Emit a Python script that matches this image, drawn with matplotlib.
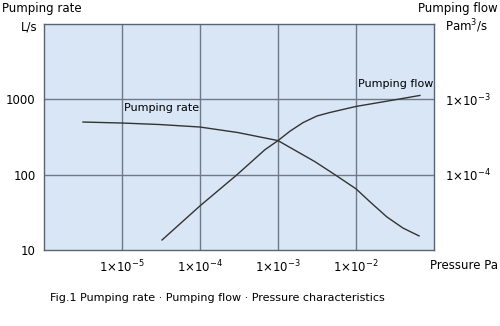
import matplotlib
matplotlib.use("Agg")
import matplotlib.pyplot as plt
from matplotlib.ticker import NullLocator, FixedLocator

# pressure (Pa) vs pumping rate (L/s)
rate_pressure = [3.16e-6, 1e-5, 3.07e-5, 1e-4, 3.07e-4, 1e-3, 1.6e-3, 2.98e-3,
                 5.38e-3, 1e-2, 1.56e-2, 2.49e-2, 4.0e-2, 6.43e-2]
rate_values = [501, 486, 464, 430, 363, 284, 215, 149, 100, 65, 42.4, 27.5, 19.6, 15.4]

# pressure (Pa) vs pumping flow (Pa m3/s)
flow_pressure = [3.26e-5, 1e-4, 2.98e-4, 6.8e-4, 1e-3, 1.43e-3, 2.1e-3, 3.16e-3,
                 4.64e-3, 1e-2, 3.36e-2, 6.6e-2]
flow_values = [1.36e-5, 3.86e-5, 1e-4, 2.15e-4, 2.84e-4, 3.8e-4, 4.93e-4, 6.03e-4,
               6.71e-4, 8.07e-4, 1e-3, 1.13e-3]

x_ticks = [1e-5, 1e-4, 1e-3, 1e-2]
x_labels = ["1×10$^{-5}$", "1×10$^{-4}$", "1×10$^{-3}$", "1×10$^{-2}$"]
rate_ticks = [10, 100, 1000]
rate_labels = ["10", "100", "1000"]
flow_ticks = [1e-4, 1e-3]
flow_labels = ["1×10$^{-4}$", "1×10$^{-3}$"]

plt.rcParams["font.family"] = ["DejaVu Sans"]
plt.rcParams["mathtext.default"] = "regular"

fig = plt.figure(figsize=(5.0, 3.26), dpi=100)
ax = fig.add_axes([0.088, 0.233, 0.78, 0.693])
ax.set_facecolor("#d8e6f6")
ax.set_xscale("log")
ax.set_yscale("log")
ax.set_xlim(1e-6, 1e-1)
ax.set_ylim(10, 1e4)

grid_col = "#6e7a86"
for v in x_ticks:
    ax.axvline(v, color=grid_col, lw=1.0, zorder=1)
for v in [100, 1000]:
    ax.axhline(v, color=grid_col, lw=1.0, zorder=1)
for s in ax.spines.values():
    s.set_color("#5a6470")
    s.set_linewidth(1.0)

ax.plot(rate_pressure, rate_values, color="#333333", lw=1.0, zorder=3,
        solid_joinstyle="round")

ax.xaxis.set_major_locator(FixedLocator(x_ticks))
ax.set_xticklabels(x_labels)
ax.xaxis.set_minor_locator(NullLocator())
ax.yaxis.set_major_locator(FixedLocator(rate_ticks))
ax.set_yticklabels(rate_labels)
ax.yaxis.set_minor_locator(NullLocator())
ax.tick_params(length=0, labelsize=8.5, pad=6)

ax2 = ax.twinx()
ax2.set_yscale("log")
ax2.set_ylim(1e-5, 1e-2)
ax2.plot(flow_pressure, flow_values, color="#333333", lw=1.0, zorder=3,
         solid_joinstyle="round")
ax2.yaxis.set_major_locator(FixedLocator(flow_ticks))
ax2.set_yticklabels(flow_labels)
ax2.yaxis.set_minor_locator(NullLocator())
ax2.tick_params(length=0, labelsize=8.5, pad=8)
for s in ax2.spines.values():
    s.set_visible(False)

ax.text(1.05e-5, 780, "Pumping rate", fontsize=8, va="center", ha="left", zorder=4)
ax2.text(1.05e-2, 1.6e-3, "Pumping flow", fontsize=8, va="center", ha="left", zorder=4)

fig.text(0.004, 0.975, "Pumping rate", fontsize=8.5, va="center", ha="left")
fig.text(0.076, 0.918, "L/s", fontsize=8.5, va="center", ha="right")
fig.text(0.996, 0.975, "Pumping flow", fontsize=8.5, va="center", ha="right")
fig.text(0.89, 0.92, "Pam$^3$/s", fontsize=8.5, va="center", ha="left")
fig.text(0.996, 0.185, "Pressure Pa", fontsize=8.5, va="center", ha="right")
fig.text(0.1, 0.086, "Fig.1 Pumping rate · Pumping flow · Pressure characteristics",
         fontsize=8, va="center", ha="left")

fig.savefig("out.png", dpi=100)
